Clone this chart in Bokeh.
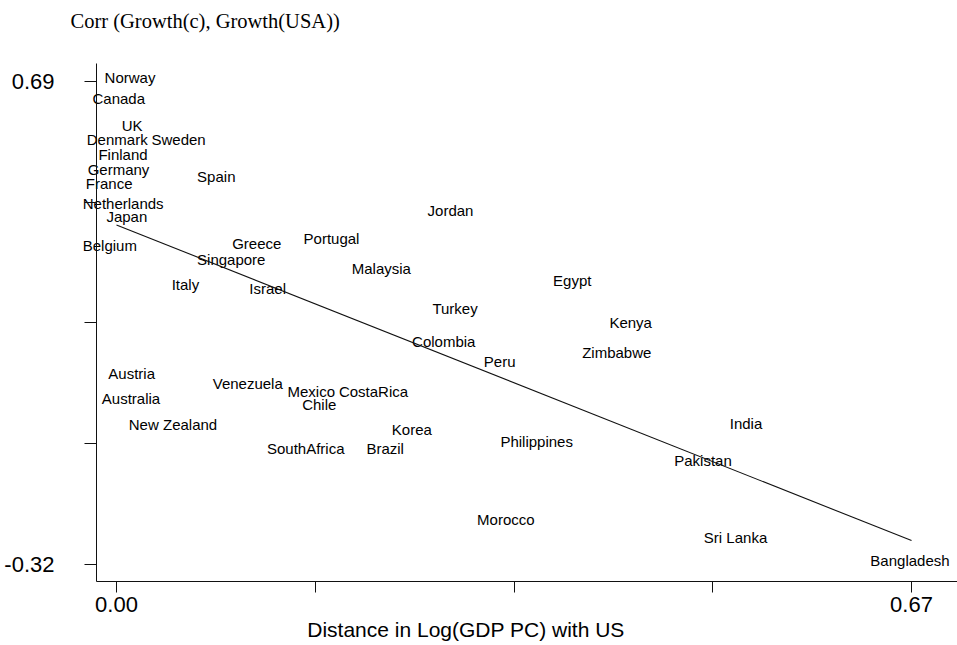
from bokeh.plotting import figure
from bokeh.models import ColumnDataSource, FixedTicker, Label
from bokeh.core.properties import value
from bokeh.embed import file_html
from bokeh.resources import INLINE

# ---- data ----
countries = ["Norway", "Canada", "UK", "Denmark", "Sweden", "Finland", "Germany", "France",
             "Spain", "Netherlands", "Japan", "Belgium", "Greece", "Portugal", "Singapore",
             "Jordan", "Malaysia", "Italy", "Israel", "Egypt", "Turkey", "Kenya", "Colombia",
             "Zimbabwe", "Peru", "Austria", "Venezuela", "Mexico", "CostaRica", "Australia",
             "Chile", "New Zealand", "Korea", "SouthAfrica", "Brazil", "Philippines", "India",
             "Pakistan", "Morocco", "Sri Lanka", "Bangladesh"]
distance = [0.0114, 0.0019, 0.0132, 0.0006, 0.0523, 0.0055, 0.0017, -0.0062,
            0.0841, 0.0056, 0.0087, -0.0056, 0.1182, 0.1812, 0.0967,
            0.2815, 0.2232, 0.0581, 0.1274, 0.3841, 0.2853, 0.4333, 0.2758,
            0.4216, 0.3229, 0.0128, 0.1106, 0.1641, 0.2166, 0.0122,
            0.1709, 0.0476, 0.2489, 0.1595, 0.2264, 0.3541, 0.5305,
            0.4943, 0.3281, 0.5217, 0.6687]
corr = [0.69, 0.6455, 0.5896, 0.5597, 0.5597, 0.5284, 0.4970, 0.4677,
        0.4830, 0.4271, 0.3993, 0.3387, 0.3439, 0.3527, 0.3088,
        0.4125, 0.2912, 0.2565, 0.2481, 0.2655, 0.2076, 0.1783, 0.1386,
        0.1155, 0.0967, 0.0716, 0.0495, 0.0334, 0.0334, 0.0194,
        0.0062, -0.0363, -0.0461, -0.0865, -0.0865, -0.0712, -0.0329,
        -0.1109, -0.2349, -0.2726, -0.32]

# fitted line end points
fit_x = [0.0, 0.67]
fit_y = [0.39, -0.27]

x_ticks = [0.0, 0.1675, 0.335, 0.5025, 0.67]
x_tick_labels = ["0.00", "", "", "", "0.67"]
y_ticks = [-0.32, -0.0675, 0.185, 0.4375, 0.69]
y_tick_labels = ["-0.32", "", "", "", "0.69"]

title_text = "Corr (Growth(c), Growth(USA))"
xlabel_text = "Distance in Log(GDP PC) with US"

SANS = "Liberation Sans"
SERIF = "Liberation Serif"

# axis placement (data coordinates where the two axes cross / end)
X_AXIS_AT = -0.35555
Y_AXIS_AT = -0.016855
Y_AXIS_TOP = 0.72764
X_AXIS_RIGHT = 0.7087

p = figure(width=957, height=645,
           x_range=(-0.097758, 0.708748), y_range=(-0.489423, 0.859385),
           output_backend="svg", toolbar_location=None,
           min_border=0, min_border_left=0, min_border_right=0,
           min_border_top=0, min_border_bottom=0)
p.outline_line_color = None
p.xgrid.visible = False
p.ygrid.visible = False
p.background_fill_color = "white"
p.border_fill_color = "white"

for ax in (p.xaxis[0], p.yaxis[0]):
    ax.axis_line_color = "#111111"
    ax.axis_line_width = 1
    ax.major_tick_line_color = "#111111"
    ax.major_tick_in = 0
    ax.minor_tick_line_color = None
    ax.major_label_text_font = SANS
    ax.major_label_text_font_size = "22px"
    ax.major_label_text_color = "black"

xa = p.xaxis[0]
xa.fixed_location = X_AXIS_AT
xa.bounds = (Y_AXIS_AT, X_AXIS_RIGHT)
xa.ticker = FixedTicker(ticks=x_ticks)
xa.major_label_overrides = {t: l for t, l in zip(x_ticks, x_tick_labels)}
xa.major_tick_out = 11
xa.major_label_standoff = 5

ya = p.yaxis[0]
ya.fixed_location = Y_AXIS_AT
ya.bounds = (X_AXIS_AT, Y_AXIS_TOP)
ya.ticker = FixedTicker(ticks=y_ticks)
ya.major_label_overrides = {t: l for t, l in zip(y_ticks, y_tick_labels)}
ya.major_tick_out = 12
ya.major_label_standoff = 30
ya.major_label_orientation = "horizontal"
ya.major_label_text_baseline = "hanging"

src = ColumnDataSource(dict(x=distance, y=corr, name=countries))
p.text(x="x", y="y", text="name", source=src,
       text_align="center", text_baseline="middle", y_offset=-4,
       text_font=value(SANS), text_font_size="15px", text_color="black")

p.line(fit_x, fit_y, line_color="#111111", line_width=1.1)

# title and x-axis caption (screen pixels from the bottom-left corner)
p.add_layout(Label(x=70, y=625, x_units="screen", y_units="screen", text=title_text,
                   text_font=SERIF, text_font_size="20.5px", text_color="black",
                   text_align="left", text_baseline="alphabetic"))
p.add_layout(Label(x=465.5, y=16.5, x_units="screen", y_units="screen", text=xlabel_text,
                   text_font=SANS, text_font_size="21px", text_color="black",
                   text_align="center", text_baseline="alphabetic"))

open("out.html", "w").write(file_html(p, INLINE))
